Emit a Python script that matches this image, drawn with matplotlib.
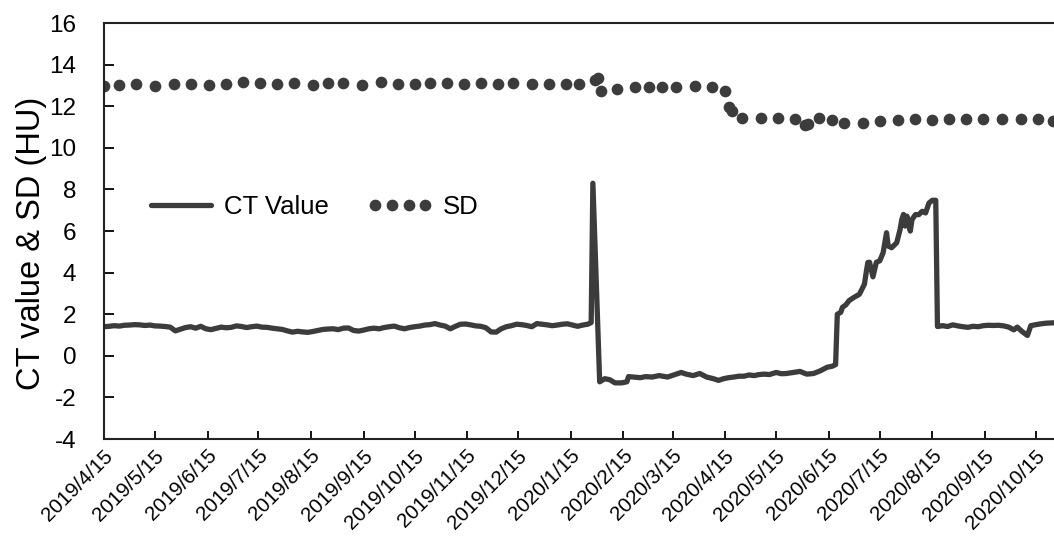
import pandas as pd
import matplotlib
matplotlib.use("Agg")
import matplotlib.pyplot as plt
from matplotlib.legend_handler import HandlerLine2D
from matplotlib.transforms import ScaledTranslation

# days counted from 2019/4/15
start = pd.Timestamp("2019-04-15")

# CT value, daily-ish readings
ct_day = list(range(0, 288, 3)) + [287, 288, 292] + [
    295, 298, 301, 305, 308, 309, 312, 316, 319, 323, 327, 332, 337, 340, 343,
    347, 351, 355, 359, 362, 365, 368, 371, 374, 377, 380, 383, 386, 389, 392,
    396, 399, 402, 406, 410, 414, 418, 422, 426, 429, 431,
    432, 434, 435, 437, 439, 442, 445, 448, 449, 450, 451, 453, 455, 457, 459,
    461, 462, 464, 467, 469, 470, 471, 472, 473, 475, 476, 478, 480, 482, 484,
    485, 486, 488, 490,
    491, 494, 497, 500, 503, 506, 509, 512, 515, 518, 521, 524, 527, 530, 533,
    536, 538, 541, 544, 546, 549, 552, 555, 558, 562]
ct_value = [
    1.40, 1.42, 1.45, 1.43, 1.47, 1.48, 1.50, 1.49, 1.46, 1.48,
    1.44, 1.43, 1.41, 1.38, 1.20, 1.28, 1.36, 1.40, 1.33, 1.42,
    1.30, 1.26, 1.32, 1.38, 1.35, 1.37, 1.44, 1.41, 1.36, 1.40,
    1.43, 1.38, 1.37, 1.33, 1.30, 1.27, 1.20, 1.14, 1.18, 1.15,
    1.13, 1.17, 1.22, 1.27, 1.29, 1.30, 1.26, 1.33, 1.34, 1.22,
    1.19, 1.24, 1.30, 1.33, 1.30, 1.36, 1.40, 1.43, 1.35, 1.30,
    1.36, 1.40, 1.43, 1.48, 1.50, 1.55, 1.48, 1.43, 1.30, 1.42,
    1.52, 1.53, 1.49, 1.44, 1.42, 1.35, 1.15, 1.14, 1.30, 1.40,
    1.45, 1.52, 1.50, 1.46, 1.40, 1.55, 1.52, 1.49, 1.45, 1.48,
    1.52, 1.54, 1.48, 1.42, 1.48, 1.52,
    1.60, 8.30, -1.25,
    -1.10, -1.15, -1.30, -1.30, -1.25, -1.00, -1.02, -1.05, -1.00, -1.02,
    -0.95, -1.02, -0.88, -0.80, -0.88, -0.95, -0.85, -1.02, -1.10, -1.18,
    -1.10, -1.05, -1.02, -0.98, -0.98, -0.92, -0.95, -0.90, -0.88, -0.90,
    -0.80, -0.86, -0.85, -0.80, -0.75, -0.88, -0.85, -0.72, -0.55, -0.50, -0.42,
    2.00, 2.09, 2.33, 2.45, 2.66, 2.82, 2.96, 3.45, 4.00, 4.49,
    4.50, 3.80, 4.50, 4.57, 4.96, 5.92, 5.28, 5.20, 5.44, 6.08,
    6.56, 6.80, 6.24, 6.72, 6.00, 6.55, 6.79, 6.79, 6.95, 6.87,
    7.11, 7.35, 7.48, 7.48,
    1.41, 1.45, 1.41, 1.49, 1.44, 1.40, 1.37, 1.42, 1.40, 1.45,
    1.47, 1.46, 1.47, 1.44, 1.38, 1.25, 1.38, 1.16, 0.98, 1.45,
    1.50, 1.54, 1.57, 1.58, 1.60]

# SD readings
sd_day = [0, 9, 19, 30, 41, 51, 62, 72, 82, 92, 102, 112, 123, 132, 141, 152,
          163, 173, 183, 192, 202, 212, 222, 232, 241, 252, 262, 272, 280, 289,
          291, 293, 302, 313, 321, 329, 337, 348, 358, 366, 368, 370, 376, 387,
          397, 407, 413, 415, 421, 429, 436, 447, 457, 468, 478, 488, 498, 508,
          518, 529, 540, 550, 559]
sd_value = [13.00, 13.03, 13.09, 12.99, 13.07, 13.05, 13.02, 13.05, 13.15, 13.12,
            13.09, 13.12, 13.01, 13.14, 13.10, 13.03, 13.15, 13.06, 13.05, 13.11,
            13.10, 13.05, 13.12, 13.09, 13.11, 13.07, 13.06, 13.06, 13.05, 13.25,
            13.36, 12.72, 12.85, 12.92, 12.94, 12.94, 12.93, 12.96, 12.95, 12.75,
            11.95, 11.76, 11.43, 11.42, 11.45, 11.38, 11.09, 11.16, 11.45, 11.36,
            11.20, 11.19, 11.30, 11.34, 11.41, 11.35, 11.39, 11.39, 11.38, 11.37,
            11.37, 11.40, 11.30]

tick_dates = pd.date_range("2019-04-01", "2020-10-01", freq="MS") + pd.Timedelta(days=14)
tick_labels = [f"{d.year}/{d.month}/{d.day}" for d in tick_dates]

ct_x = start + pd.to_timedelta(ct_day, unit="D")
sd_x = start + pd.to_timedelta(sd_day, unit="D")

plt.rcParams["font.family"] = ["Liberation Sans", "DejaVu Sans"]
plt.rcParams["axes.unicode_minus"] = False
color = "#3c3c3c"

fig = plt.figure(figsize=(10.54, 5.38), dpi=100)
ax = fig.add_axes([0.0987, 0.184, 0.926, 0.773])

ax.plot(ct_x, ct_value, color=color, linewidth=3.8, solid_joinstyle="round",
        solid_capstyle="round", label="CT Value")
sd_line, = ax.plot(sd_x, sd_value, "o", color=color, markersize=7.4,
                   linestyle="none", label="SD")

ax.set_xlim(start, start + pd.Timedelta(days=575))
ax.set_ylim(-4, 16)
ax.set_yticks(range(-4, 17, 2))
ax.set_xticks(tick_dates)
ax.set_xticklabels(tick_labels, rotation=45, ha="right", va="center",
                   rotation_mode="anchor", fontsize=14.8)
ax.tick_params(axis="y", direction="in", length=7, width=1.3, labelsize=17.5, pad=20)
ax.tick_params(axis="x", direction="in", length=6, width=1.3, pad=10)

# nudge the date labels a little to the right, like the original
shift = ScaledTranslation(6 / 100, 0, fig.dpi_scale_trans)
for lbl in ax.get_xticklabels():
    lbl.set_transform(lbl.get_transform() + shift)

for side in ["left", "bottom", "top"]:
    ax.spines[side].set_linewidth(1.5)
    ax.spines[side].set_color("#222222")
ax.spines["right"].set_visible(False)

ax.set_ylabel("CT value & SD (HU)", fontsize=23.5)
ax.yaxis.set_label_coords(-0.058, 0.47)

ax.legend(loc="center left", bbox_to_anchor=(0.040, 0.558), ncol=2,
          frameon=False, fontsize=18.5, handlelength=2.95, handletextpad=0.2,
          columnspacing=1.3, numpoints=4, borderpad=0, borderaxespad=0,
          handler_map={sd_line: HandlerLine2D(numpoints=4, marker_pad=0.5)})

fig.savefig("out.png", dpi=100)
